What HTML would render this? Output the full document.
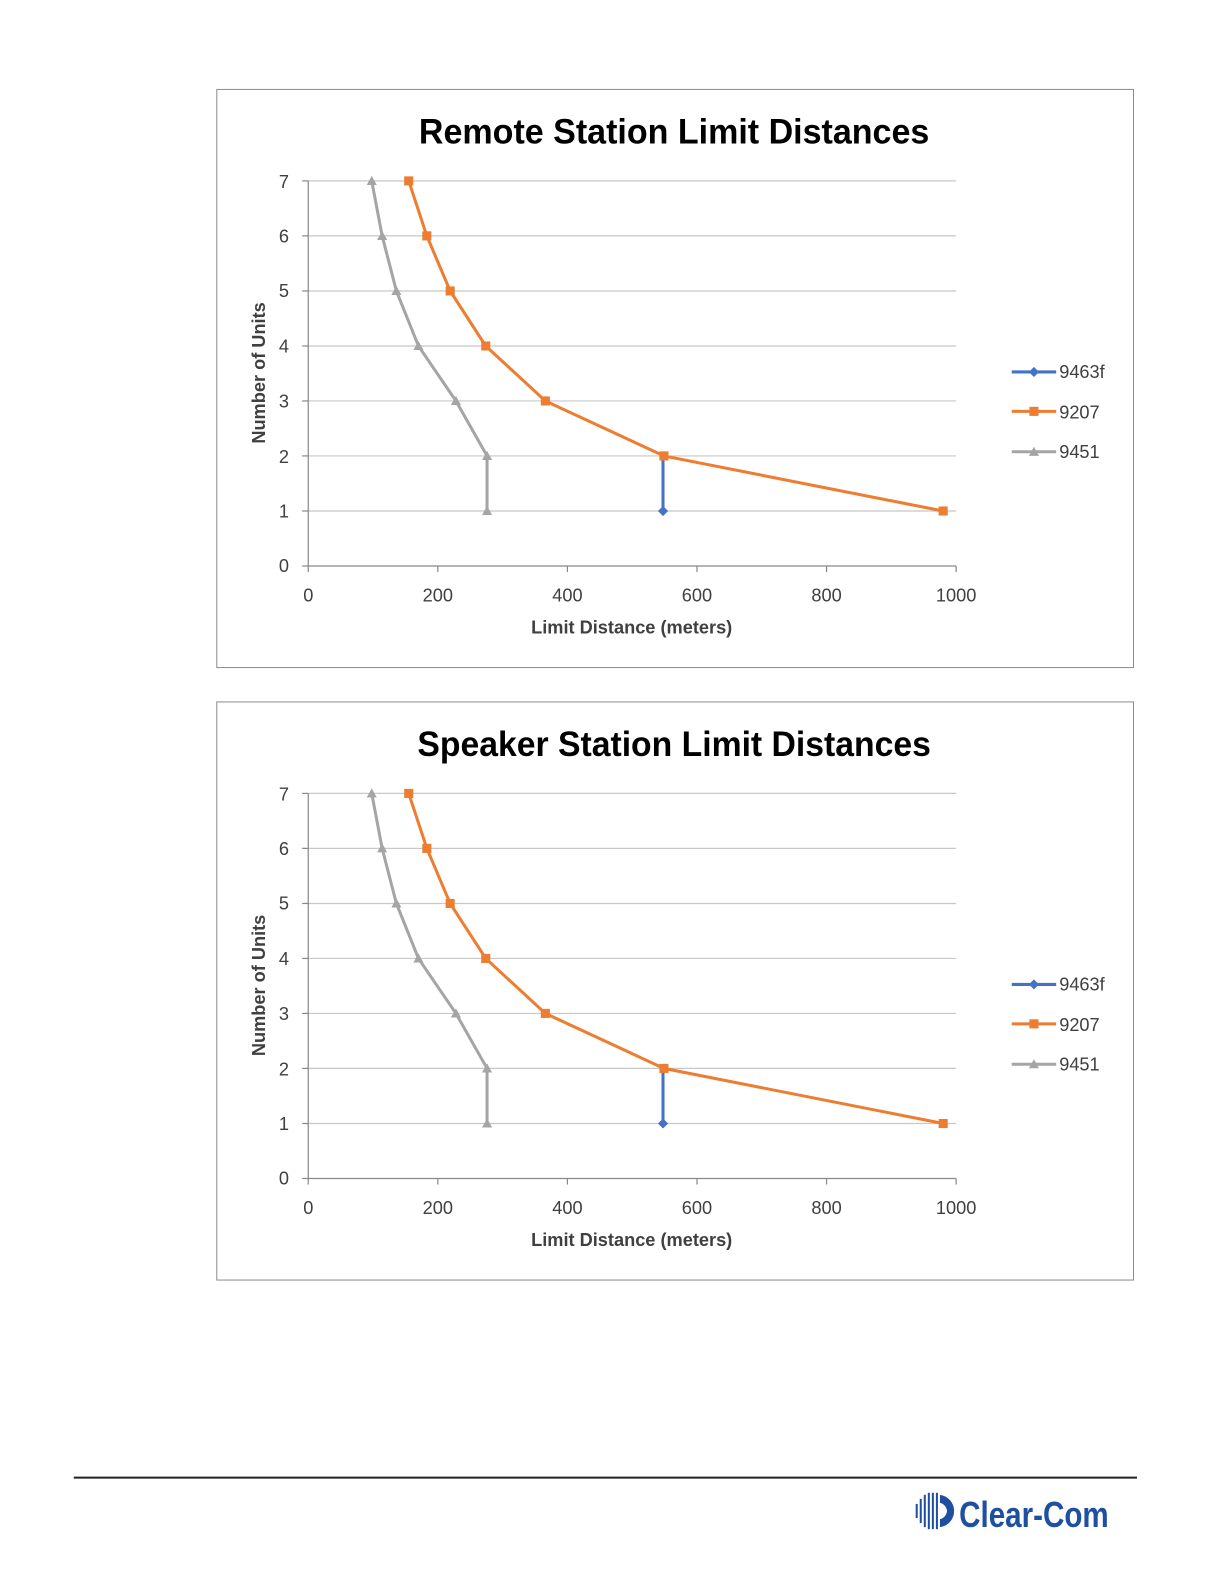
<!DOCTYPE html>
<html><head><meta charset="utf-8"><style>
html,body{margin:0;padding:0;background:#fff;width:1224px;height:1584px;overflow:hidden;}
svg{display:block;position:absolute;left:0;top:0;font-family:"Liberation Sans",sans-serif;}
</style></head><body>
<svg width="1224" height="1584" viewBox="0 0 1224 1584" xmlns="http://www.w3.org/2000/svg">
<defs>
<g id="chart">
  <rect x="214.5" y="88.5" width="907" height="572" fill="#fff" stroke="#8c8c8c" stroke-width="1"/>
  <g stroke="#c8c8c8" stroke-width="1.2">
    <line x1="305" y1="179" x2="946" y2="179"/>
    <line x1="305" y1="233.4" x2="946" y2="233.4"/>
    <line x1="305" y1="287.9" x2="946" y2="287.9"/>
    <line x1="305" y1="342.3" x2="946" y2="342.3"/>
    <line x1="305" y1="396.7" x2="946" y2="396.7"/>
    <line x1="305" y1="451.1" x2="946" y2="451.1"/>
    <line x1="305" y1="505.6" x2="946" y2="505.6"/>
  </g>
  <g stroke="#888" stroke-width="1.2">
    <line x1="305" y1="560" x2="946" y2="560"/>
    <line x1="305" y1="179" x2="305" y2="560"/>
    <line x1="299" y1="179" x2="305" y2="179"/><line x1="299" y1="233.4" x2="305" y2="233.4"/>
    <line x1="299" y1="287.9" x2="305" y2="287.9"/><line x1="299" y1="342.3" x2="305" y2="342.3"/>
    <line x1="299" y1="396.7" x2="305" y2="396.7"/><line x1="299" y1="451.1" x2="305" y2="451.1"/>
    <line x1="299" y1="505.6" x2="305" y2="505.6"/><line x1="299" y1="560" x2="305" y2="560"/>
    <line x1="305" y1="560" x2="305" y2="566"/><line x1="433.2" y1="560" x2="433.2" y2="566"/>
    <line x1="561.4" y1="560" x2="561.4" y2="566"/><line x1="689.6" y1="560" x2="689.6" y2="566"/>
    <line x1="817.8" y1="560" x2="817.8" y2="566"/><line x1="946" y1="560" x2="946" y2="566"/>
  </g>
  <g font-size="18" fill="#404040" text-anchor="end">
    <text x="286" y="186">7</text><text x="286" y="240">6</text><text x="286" y="294">5</text>
    <text x="286" y="349">4</text><text x="286" y="403">3</text><text x="286" y="458">2</text>
    <text x="286" y="512">1</text><text x="286" y="566">0</text>
  </g>
  <g font-size="18" fill="#404040" text-anchor="middle">
    <text x="305" y="595">0</text><text x="433.2" y="595">200</text><text x="561.4" y="595">400</text>
    <text x="689.6" y="595">600</text><text x="817.8" y="595">800</text><text x="946" y="595">1000</text>
  </g>
  <text x="625" y="627" font-size="18" font-weight="bold" fill="#404040" text-anchor="middle">Limit Distance (meters)</text>
  <text transform="translate(262,369) rotate(-90)" font-size="18" font-weight="bold" fill="#404040" text-anchor="middle">Number of Units</text>
  <polyline points="367.8,179 378.1,233.4 392.2,287.9 414,342.3 451.1,396.7 481.9,451.1 481.9,505.6" fill="none" stroke="#a5a5a5" stroke-width="3"/>
  <g fill="#a5a5a5">
    <path d="M367.8,174 l5,9 h-10z"/><path d="M378.1,228.4 l5,9 h-10z"/><path d="M392.2,282.9 l5,9 h-10z"/>
    <path d="M414,337.3 l5,9 h-10z"/><path d="M451.1,391.7 l5,9 h-10z"/><path d="M481.9,446.1 l5,9 h-10z"/>
    <path d="M481.9,500.6 l5,9 h-10z"/>
  </g>
  <line x1="656" y1="451.1" x2="656" y2="505.6" stroke="#4472c4" stroke-width="3"/>
  <path d="M656,500.6 l5,5 -5,5 -5,-5z" fill="#4472c4"/>
  <polyline points="404.4,179 422.3,233.4 445.4,287.9 480.6,342.3 539.6,396.7 656.9,451.1 933.2,505.6" fill="none" stroke="#ed7d31" stroke-width="3"/>
  <g fill="#ed7d31">
    <rect x="399.9" y="174.5" width="9" height="9"/><rect x="417.8" y="228.9" width="9" height="9"/>
    <rect x="440.9" y="283.4" width="9" height="9"/><rect x="476.1" y="337.8" width="9" height="9"/>
    <rect x="535.1" y="392.2" width="9" height="9"/><rect x="652.4" y="446.6" width="9" height="9"/>
    <rect x="928.7" y="501.1" width="9" height="9"/>
  </g>
  <line x1="1001" y1="368" x2="1045" y2="368" stroke="#4472c4" stroke-width="3"/>
  <path d="M1023,363 l5,5 -5,5 -5,-5z" fill="#4472c4"/>
  <line x1="1001" y1="407" x2="1045" y2="407" stroke="#ed7d31" stroke-width="3"/>
  <rect x="1018.5" y="402.5" width="9" height="9" fill="#ed7d31"/>
  <line x1="1001" y1="447" x2="1045" y2="447" stroke="#a5a5a5" stroke-width="3"/>
  <path d="M1023,442 l5,9 h-10z" fill="#a5a5a5"/>
  <g font-size="18" fill="#404040">
    <text x="1048" y="374">9463f</text><text x="1048" y="414">9207</text><text x="1048" y="453">9451</text>
  </g>
</g>
</defs>
<g transform="scale(1.0107)">
<use href="#chart"/>
<text x="667" y="142" font-size="35" font-weight="bold" fill="#000" text-anchor="middle" textLength="505" lengthAdjust="spacingAndGlyphs">Remote Station Limit Distances</text>
<use href="#chart" transform="translate(0,606)"/>
<text x="667" y="748" font-size="35" font-weight="bold" fill="#000" text-anchor="middle" textLength="508" lengthAdjust="spacingAndGlyphs">Speaker Station Limit Distances</text>
<line x1="73" y1="1462" x2="1125" y2="1462" stroke="#222" stroke-width="2"/>
<g fill="#1f4fa0">
  <rect x="906" y="1488" width="2" height="14"/><rect x="910" y="1483" width="2" height="24"/>
  <rect x="914" y="1479" width="2" height="32"/><rect x="918" y="1477" width="2" height="36"/>
  <rect x="922" y="1477" width="2" height="36"/><rect x="926" y="1477" width="2" height="36"/>
  <path d="M930,1479 a16,16 0 0 1 14,16 h-7 a9,9 0 0 0 -7,-8z M930,1511 a16,16 0 0 0 14,-16 h-7 a9,9 0 0 1 -7,8z"/>
  <text x="949" y="1511" font-size="36" font-weight="bold" textLength="148" lengthAdjust="spacingAndGlyphs" font-family="Liberation Sans Narrow, Liberation Sans, sans-serif">Clear-Com</text>
</g>
</g>
</svg>
</body></html>
